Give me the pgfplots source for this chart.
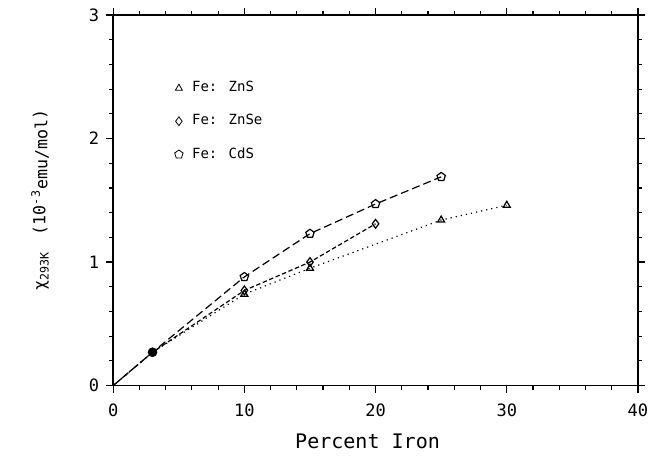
\documentclass[border=0pt]{standalone}
\usepackage{fontspec}
\setmainfont{DejaVu Sans Mono}
\usepackage{pgfplots}
\pgfplotsset{compat=1.18}
\begin{document}
\begin{tikzpicture}
\begin{axis}[
    scale only axis,
    width=262pt, height=185pt,
    xmin=0, xmax=40, ymin=0, ymax=3,
    xtick={0,10,20,30,40}, ytick={0,1,2,3},
    minor x tick num=4, minor y tick num=4,
    xtick pos=both, ytick pos=both,
    xticklabel pos=left, yticklabel pos=left,
    tick align=outside,
    major tick length=3.5pt, minor tick length=2pt,
    tick style={black, line width=0.6pt},
    axis line style={line width=0.8pt},
    ticklabel style={font=\fontsize{8.5}{9}\selectfont},
    xticklabel style={yshift=-2pt},
    /pgf/number format/assume math mode=true,
    xlabel={Percent Iron},
    xlabel style={font=\fontsize{10}{12}\selectfont, yshift=-2pt, xshift=-4pt},
    ylabel={χ\textsubscript{293K}\quad(10\textsuperscript{-3}\raisebox{-1pt}{emu/mol})},
    ylabel style={font=\fontsize{8.3}{9}\selectfont, yshift=13pt},
    legend style={at={(axis cs:4.2,2.53)}, anchor=north west, draw=none, fill=none,
        font=\fontsize{7}{8}\selectfont, row sep=5.8pt,
        /tikz/every odd column/.append style={column sep=2.5pt}},
    legend cell align=left,
]

% --- Fe:ZnS ---
\addplot[black, line width=0.6pt, dotted, mark=triangle, mark size=2pt,
    mark indices={3,4,5,6}, mark options={solid}, forget plot] coordinates {
    (0,0) (3,0.27) (10,0.74) (15,0.95) (25,1.34) (30,1.46)
};

% --- Fe:ZnSe ---
\addplot[black, line width=0.6pt, dash pattern=on 2.2pt off 1.3pt, mark=diamond, mark size=2.2pt,
    mark indices={3,4,5}, mark options={solid}, forget plot] coordinates {
    (0,0) (3,0.27) (10,0.77) (15,1.00) (20,1.31)
};

% --- Fe:CdS ---
\addplot[black, line width=0.6pt, dash pattern=on 4pt off 2pt, mark=pentagon, mark size=2.2pt,
    mark indices={3,4,5,6}, mark options={solid}, forget plot] coordinates {
    (0,0) (3,0.27) (10,0.88) (15,1.23) (20,1.47) (25,1.69)
};

% --- common point ---
\addplot[black, only marks, mark=*, mark size=2.2pt, forget plot] coordinates {(3,0.27)};

\addlegendimage{black, only marks, mark=triangle, mark size=2pt}
\addlegendentry{Fe: ZnS}
\addlegendimage{black, only marks, mark=diamond, mark size=2.2pt}
\addlegendentry{Fe: ZnSe}
\addlegendimage{black, only marks, mark=pentagon, mark size=2.2pt}
\addlegendentry{Fe: CdS}

\end{axis}
% page margins as in the reference
\path ([xshift=-56.5pt,yshift=-34.5pt]current axis.south west)
    rectangle ([xshift=8.5pt,yshift=7.5pt]current axis.north east);
\end{tikzpicture}
\end{document}
